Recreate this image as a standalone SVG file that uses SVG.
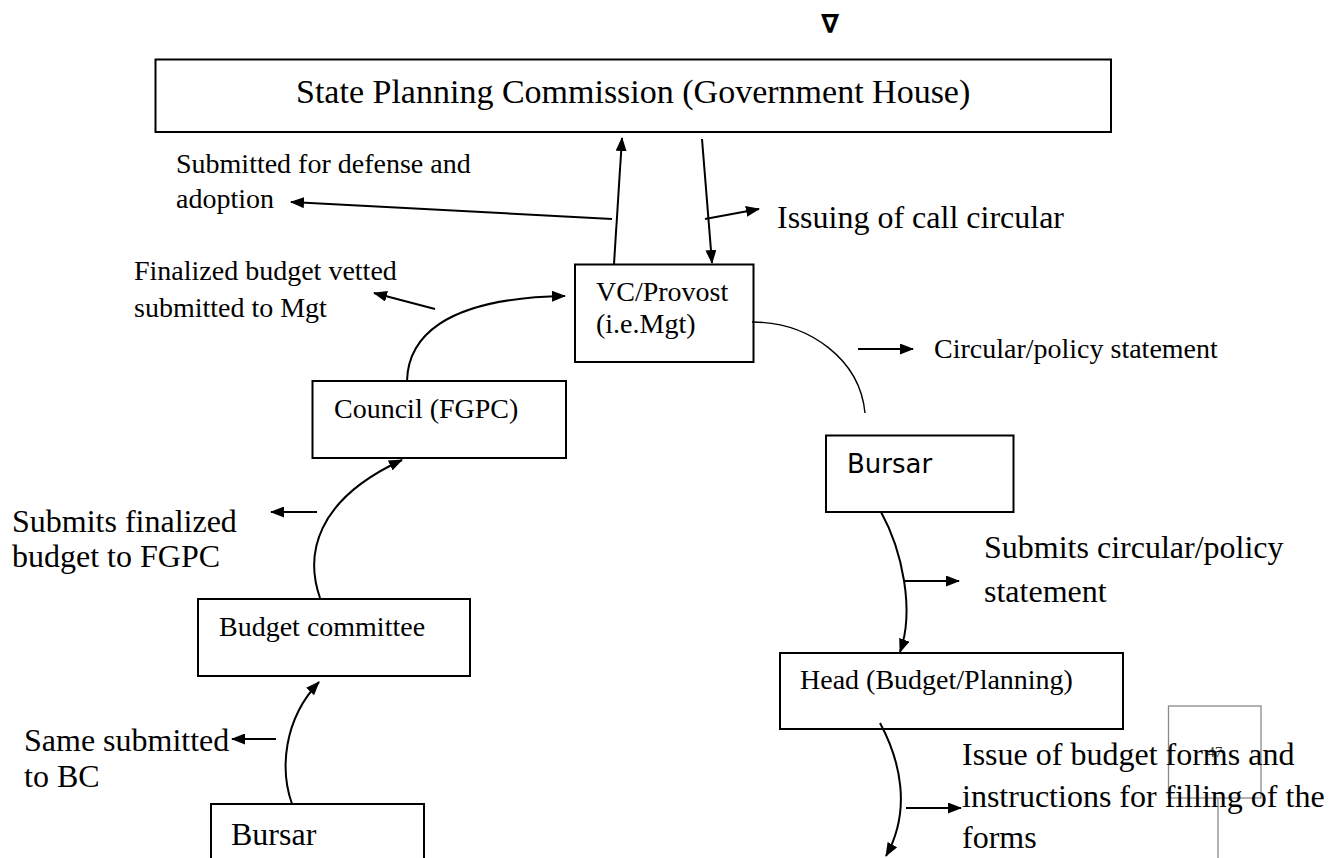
<svg xmlns="http://www.w3.org/2000/svg" width="1339" height="858" viewBox="0 0 1339 858">
<defs>
<marker id="ah" markerUnits="userSpaceOnUse" markerWidth="14" markerHeight="11" viewBox="0 0 14 11" refX="13" refY="5.5" orient="auto">
<path d="M0,0 L14,5.5 L0,11 z" fill="#000"/>
</marker>
<style>
text{font-family:"Liberation Serif","Times New Roman",serif;fill:#000}
.box{fill:#fff;stroke:#000;stroke-width:2}
.ln{fill:none;stroke:#000;stroke-width:2}
.thin{fill:none;stroke:#000;stroke-width:1.4}
.arr{marker-end:url(#ah)}
.f28{font-size:28px}
.f32{font-size:32px}
.sans{font-family:"DejaVu Sans","Verdana",sans-serif}
</style>
</defs>
<rect width="1339" height="858" fill="#fff"/>

<text x="830" y="33" text-anchor="middle" style="font-family:'DejaVu Sans',sans-serif;font-weight:bold;font-size:26px">∇</text>

<g id="node-spc">
<rect class="box" x="155.5" y="59.5" width="955.5" height="72.5"/>
<text x="296" y="103" style="font-size:34px">State Planning Commission (Government House)</text>
</g>

<g id="node-vc">
<rect class="box" x="575" y="264.5" width="178.5" height="97.5"/>
<text class="f28" x="596" y="301">VC/Provost</text>
<text class="f28" x="596" y="333">(i.e.Mgt)</text>
</g>

<g id="node-council">
<rect class="box" x="312.5" y="381" width="253.5" height="77"/>
<text class="f28" x="334" y="418">Council (FGPC)</text>
</g>

<g id="node-budget-committee">
<rect class="box" x="198" y="599" width="272" height="77"/>
<text class="f28" x="219" y="636">Budget committee</text>
</g>

<g id="node-bursar-left">
<path class="ln" d="M211,860 V804 H424 V860"/>
<text class="f32" x="231" y="845">Bursar</text>
</g>

<g id="node-bursar-right">
<rect class="box" x="826" y="435.5" width="187.5" height="76.5"/>
<text class="sans" x="847" y="473" style="font-size:26px">Bursar</text>
</g>

<g id="node-head">
<rect class="box" x="780" y="653" width="343" height="76"/>
<text class="f28" x="800" y="689">Head (Budget/Planning)</text>
</g>

<g id="connectors">
<line class="ln arr" x1="614" y1="264" x2="622" y2="138"/>
<line class="ln arr" x1="702" y1="139" x2="712" y2="263"/>
<line class="ln arr" x1="612" y1="219" x2="291" y2="202"/>
<line class="ln arr" x1="705" y1="219" x2="759" y2="209"/>
<line class="ln arr" x1="435" y1="309" x2="374" y2="293"/>
<path class="ln arr" d="M407,381 C408,340 440,298 565,296"/>
<path class="thin" d="M752,322 C810,322 860,360 865,413"/>
<line class="ln arr" x1="858" y1="349" x2="913" y2="349"/>
<path class="ln arr" d="M320,598 C305,555 315,500 402,460"/>
<line class="ln arr" x1="317" y1="512" x2="271" y2="512"/>
<path class="ln arr" d="M292,804 C280,770 283,720 319,682"/>
<line class="ln arr" x1="276" y1="739" x2="232" y2="739"/>
<path class="ln arr" d="M881,512 C902,550 915,610 900,652"/>
<line class="ln arr" x1="904" y1="581" x2="959" y2="581"/>
<path class="ln arr" d="M880,723 C900,760 912,810 886,856"/>
<line class="ln arr" x1="906" y1="808" x2="961" y2="808"/>
</g>

<g id="page-number">
<rect x="1168.5" y="706" width="92.5" height="92" fill="none" stroke="#8a8a8a" stroke-width="1.3"/>
<line x1="1218" y1="798" x2="1218" y2="858" stroke="#8a8a8a" stroke-width="1.3"/>
<text x="1215" y="757" text-anchor="middle" style="font-size:15px;fill:#333">47</text>
</g>

<g id="labels">
<text class="f28" x="176" y="173">Submitted for defense and</text>
<text class="f28" x="176" y="208">adoption</text>
<text class="f32" x="777" y="228">Issuing of call circular</text>
<text class="f28" x="134" y="280">Finalized budget vetted</text>
<text class="f28" x="134" y="317">submitted to Mgt</text>
<text class="f28" x="934" y="358">Circular/policy statement</text>
<text class="f32" x="12" y="532">Submits finalized</text>
<text class="f32" x="12" y="567">budget to FGPC</text>
<text class="f32" x="984" y="558">Submits circular/policy</text>
<text class="f32" x="984" y="602">statement</text>
<text class="f32" x="24" y="751">Same submitted</text>
<text class="f32" x="24" y="787">to BC</text>
<text class="f32" x="962" y="765">Issue of budget forms and</text>
<text class="f32" x="962" y="807">instructions for filling of the</text>
<text class="f32" x="962" y="848">forms</text>
</g>
</svg>
